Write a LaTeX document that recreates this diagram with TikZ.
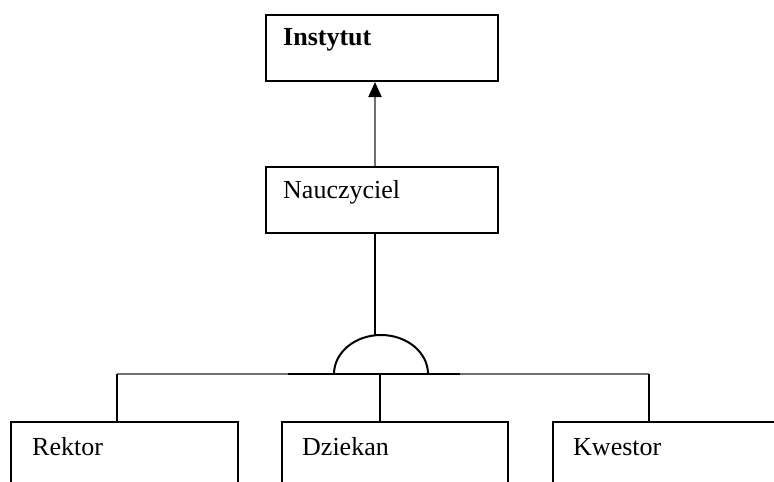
\documentclass[tikz,border=0pt]{standalone}
\usepackage{fontspec}
\setmainfont{Liberation Serif}
\usetikzlibrary{arrows.meta}
\definecolor{linkgray}{HTML}{707070}
\begin{document}
\begin{tikzpicture}[x=1pt,y=-1pt,
  box/.style={draw=black, line width=2pt, rectangle, anchor=north west, inner sep=0pt, minimum height=66pt},
  lowbox/.style={box, minimum height=110pt},
  lbl/.style={anchor=base west, inner sep=0pt, font=\fontsize{26}{31}\selectfont},
  wire/.style={draw=black, line width=2pt},
  greywire/.style={draw=linkgray, line width=2pt}]
\useasboundingbox (0,0) rectangle (774,482);
\clip (0,0) rectangle (774,482);

% class boxes
\node[box, minimum width=232pt] (inst) at (265,14) {};
\node[box, minimum width=232pt] (nau) at (265,166) {};
\node[lowbox, minimum width=227pt] (rek) at (10,421) {};
\node[lowbox, minimum width=226pt] (dzi) at (281,421) {};
\node[lowbox, minimum width=240pt] (kwe) at (552,421) {};

% class names
\node[lbl, font=\fontsize{26}{31}\selectfont\bfseries] (instT) at (283,45) {Instytut};
\node[lbl] (nauT) at (283,198) {Nauczyciel};
\node[lbl] (rekT) at (32,455) {Rektor};
\node[lbl] (dziT) at (302,455) {Dziekan};
\node[lbl] (kweT) at (573,455) {Kwestor};

% junction points
\coordinate (link) at (375,0);
\coordinate (andtop) at (375,335);
\coordinate (andL) at (334,374);
\coordinate (barL) at (117,374);
\coordinate (barR) at (649,374);
\coordinate (midL) at (288,374);
\coordinate (midR) at (460,374);
\coordinate (drop) at (380,374);

% generalisation arrow
\draw[greywire, -{Triangle[length=15pt, width=13pt, fill=black, color=black]}]
  (nau.north -| link) -- (inst.south -| link);

% line into the "and" arc
\draw[wire] (nau.south -| link) -- (andtop);
\draw[wire] (andL) arc[start angle=180, end angle=0, x radius=47, y radius=-39];

% horizontal bar
\draw[greywire] (barL) -- (barR);
\draw[wire] (midL) -- (midR);

% drops to the subclasses
\draw[wire] (barL) -- (rek.north -| barL);
\draw[wire] (drop) -- (dzi.north -| drop);
\draw[wire] (barR) -- (kwe.north -| barR);
\end{tikzpicture}
\end{document}
